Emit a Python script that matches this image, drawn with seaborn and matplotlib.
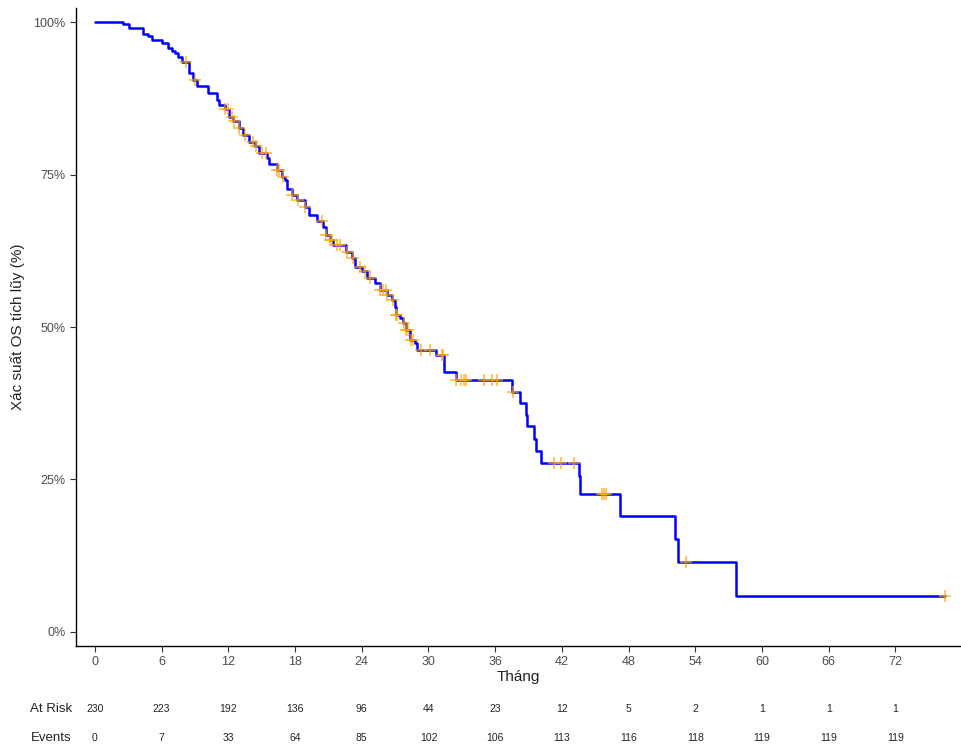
import numpy as np
import pandas as pd
import matplotlib
matplotlib.use("Agg")
import matplotlib.pyplot as plt
import matplotlib.transforms as mtransforms
import seaborn as sns

# ---- data (months, survival %) ----
step_times = [0, 2.5, 3.1, 4.3, 4.8, 5.1, 6.0, 6.6, 6.9, 7.2, 7.5, 7.8, 8.5, 8.8,
              9.2, 10.2, 11.0, 11.2, 11.7, 12.1, 12.4, 13.0, 13.3, 13.9, 14.4,
              14.8, 15.5, 15.7, 16.4, 16.8, 17.1, 17.3, 17.7, 18.2, 18.9, 19.3,
              20.0, 20.5, 20.8, 21.1, 21.4, 22.6, 23.1, 23.4, 24.0, 24.5, 25.2,
              25.6, 26.3, 26.7, 27.0, 27.1, 27.4, 27.7, 28.0, 28.3, 28.8, 29.0,
              30.7, 31.4, 32.5, 37.5, 38.2, 38.8, 38.9, 39.5, 39.7, 40.1, 43.5,
              43.6, 47.2, 52.2, 52.4, 57.7, 76.5]
step_surv = [100, 99.6, 99.1, 98.1, 97.7, 97.0, 96.5, 95.7, 95.3, 94.9, 94.3, 93.5,
             91.6, 90.5, 89.5, 88.3, 87.2, 86.4, 85.7, 84.5, 83.7, 82.6, 81.5, 80.4,
             79.6, 78.5, 77.7, 76.8, 75.7, 74.6, 74.1, 72.7, 71.6, 70.8, 69.7, 68.4,
             67.3, 66.4, 65.1, 64.3, 63.4, 62.3, 61.3, 59.9, 59.1, 58.0, 57.2, 56.1,
             55.2, 54.4, 53.3, 52.0, 51.4, 50.6, 49.5, 47.9, 47.3, 46.2, 45.4, 42.6,
             41.3, 39.4, 37.5, 35.6, 33.7, 31.6, 29.7, 27.7, 25.5, 22.6, 19.0, 15.2,
             11.5, 5.9, 5.9]

censor_times = [8.2, 9.0, 11.7, 12.0, 12.3, 12.5, 13.0, 13.5, 14.2, 14.5, 15.0, 15.4,
                16.4, 16.6, 16.9, 17.7, 18.3, 18.9, 20.4, 20.8, 21.1, 21.3, 21.8,
                22.0, 22.7, 23.2, 23.8, 24.3, 24.7, 25.6, 25.9, 26.2, 26.3, 26.8,
                27.1, 27.2, 27.8, 28.0, 28.2, 28.4, 28.6, 29.3, 30.1, 31.2, 31.3,
                32.5, 32.9, 33.2, 33.4, 35.0, 35.7, 36.2, 37.6, 41.3, 41.9, 43.1,
                45.6, 45.8, 46.0, 53.2, 76.5]

tick_months = [0, 6, 12, 18, 24, 30, 36, 42, 48, 54, 60, 66, 72]
at_risk = [230, 223, 192, 136, 96, 44, 23, 12, 5, 2, 1, 1, 1]
events = [0, 7, 33, 64, 85, 102, 106, 113, 116, 118, 119, 119, 119]

curve = pd.DataFrame({"time": step_times, "surv": step_surv})
cens = pd.DataFrame({"time": censor_times})
cens = pd.merge_asof(cens.sort_values("time"), curve, on="time", direction="backward")

sns.set_theme(style="ticks")
plt.rcParams["font.family"] = ["Liberation Sans", "DejaVu Sans"]

fig = plt.figure(figsize=(9.62, 7.47), dpi=100)
ax = fig.add_axes([76 / 962, 1 - 646 / 747, 1 - 76 / 962 - 0.001, (646 - 8) / 747])

sns.lineplot(data=curve, x="time", y="surv", ax=ax, color="#0000FF", linewidth=1.8,
             drawstyle="steps-post", estimator=None, sort=False)
sns.scatterplot(data=cens, x="time", y="surv", ax=ax, marker="+", s=80,
                color="#FFA500", linewidth=1.1, alpha=0.8, zorder=5)

ax.set_xlim(-1.7, 77.9)
ax.set_ylim(-2.3, 102.3)
ax.set_xticks(tick_months)
ax.set_yticks([0, 25, 50, 75, 100])
ax.set_yticklabels(["0%", "25%", "50%", "75%", "100%"])
ax.tick_params(axis="both", labelsize=9, colors="#333333", length=4, width=0.8)
ax.tick_params(axis="both", labelcolor="#4D4D4D")
for s in ["top", "right"]:
    ax.spines[s].set_visible(False)
for s in ["left", "bottom"]:
    ax.spines[s].set_color("black")
    ax.spines[s].set_linewidth(1.0)

ax.set_xlabel("Tháng", fontsize=11, color="#222222", labelpad=1)
ax.set_ylabel("Xác suất OS tích lũy (%)", fontsize=11, color="#222222", labelpad=6)

trans = mtransforms.blended_transform_factory(ax.transData, fig.transFigure)
y_risk = 1 - 709 / 747
y_evt = 1 - 738 / 747
for t, r, e in zip(tick_months, at_risk, events):
    ax.text(t, y_risk, str(r), transform=trans, ha="center", va="center",
            fontsize=7.5, color="#222222")
    ax.text(t, y_evt, str(e), transform=trans, ha="center", va="center",
            fontsize=7.5, color="#222222")
fig.text(72 / 962, y_risk, "At Risk", ha="right", va="center", fontsize=9.5, color="#222222")
fig.text(72 / 962, y_evt, "Events", ha="right", va="center", fontsize=9.5, color="#222222")

fig.savefig("out.png", dpi=100)
